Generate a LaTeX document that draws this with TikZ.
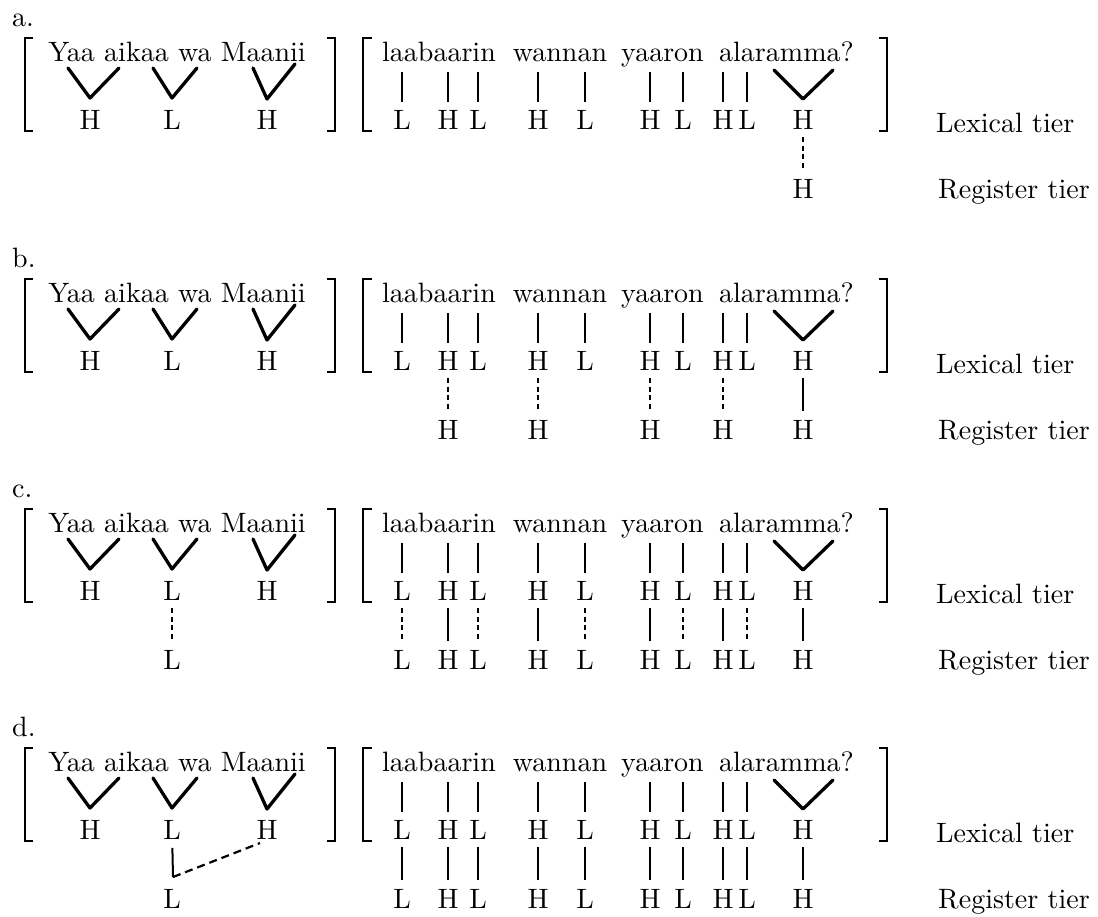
\documentclass[tikz,border=0pt]{standalone}
\usepackage{fontspec}
\newfontfamily\lmten{lmroman10-regular}[Extension=.otf]
\newcommand\bigtxt{\lmten\fontsize{28}{32}\selectfont}
\tikzset{
  tone/.style={inner sep=0pt, font=\bigtxt},
  word/.style={inner sep=0pt, font=\bigtxt, anchor=base},
  hdr/.style={inner sep=0pt, font=\bigtxt, anchor=base west},
  tier/.style={inner sep=0pt, font=\bigtxt, anchor=base west},
  vline/.style={line width=3.3pt, line cap=round, line join=round},
  bar/.style={line width=2pt},
  assoc/.style={line width=2pt, shorten <=7.5pt, shorten >=9.5pt},
  dassoc/.style={assoc, line width=2.3pt, dash pattern=on 5pt off 3.5pt},
  brk/.style={line width=2.2pt},
  longdash/.style={line width=2.2pt, dash pattern=on 8pt off 5pt},
}
\newcommand\panel[3]{%
  \node[hdr] (#1hdr) at (12,{#2-94}) {#3.};
  \node[word] (#1wA) at (177,{#2-59}) {Yaa aikaa wa Maanii};
  \node[word] (#1wB) at (439,{#2-59}) {laabaarin};
  \node[word] (#1wC) at (560,{#2-59}) {wannan};
  \node[word] (#1wD) at (662.5,{#2-59}) {yaaron};
  \node[word] (#1wE) at (786.5,{#2-59}) {alaramma?};
  \draw[brk] (33,{#2-82}) -- (25,{#2-82}) -- (25,{#2+11}) -- (33,{#2+11});
  \draw[brk] (327,{#2-82}) -- (335,{#2-82}) -- (335,{#2+11}) -- (327,{#2+11});
  \draw[brk] (372,{#2-82}) -- (363,{#2-82}) -- (363,{#2+11}) -- (372,{#2+11});
  \draw[brk] (879,{#2-82}) -- (887,{#2-82}) -- (887,{#2+11}) -- (879,{#2+11});
  \node[tone] (#1l1) at (90,#2) {H};
  \node[tone] (#1l2) at (172,#2) {L};
  \node[tone] (#1l3) at (267,#2) {H};
  \coordinate (#1v1a) at (68,{#2-52});
  \coordinate (#1v1b) at (90,{#2-22});
  \coordinate (#1v1c) at (119,{#2-52});
  \coordinate (#1v2a) at (153,{#2-52});
  \coordinate (#1v2b) at (172,{#2-22});
  \coordinate (#1v2c) at (197,{#2-52});
  \coordinate (#1v3a) at (253,{#2-52});
  \coordinate (#1v3b) at (267,{#2-21});
  \coordinate (#1v3c) at (295,{#2-56});
  \coordinate (#1v4a) at (774,{#2-50});
  \coordinate (#1v4b) at (803,{#2-21});
  \coordinate (#1v4c) at (833,{#2-50});
  \draw[vline] (#1v1a) -- (#1v1b) -- (#1v1c);
  \draw[vline] (#1v2a) -- (#1v2b) -- (#1v2c);
  \draw[vline] (#1v3a) -- (#1v3b) -- (#1v3c);
  \draw[vline] (#1v4a) -- (#1v4b) -- (#1v4c);
  \foreach \x/\tn/\i in {402/L/1,448/H/2,478/L/3,538/H/4,585/L/5,650/H/6,683/L/7,723/H/8,747/L/9,803/H/10}
    {\node[tone] (#1t\i) at (\x,#2) {\tn};}
  \foreach \x/\i in {402/1,448/2,478/3,538/4,585/5,650/6,683/7,723/8,747/9}
    {\coordinate (#1b\i) at (\x,{#2-48});
     \draw[bar, shorten >=8.5pt] (#1b\i) -- (#1t\i);}
  \node[tier] (#1lex) at (936,{#2+12}) {Lexical tier};
  \node[tier] (#1reg) at (938,{#2+78.5}) {Register tier};
}
\begin{document}
\begin{tikzpicture}[x=1pt,y=-1pt]
\useasboundingbox (0,0) rectangle (1098,916);
\fill[white] (0,0) rectangle (1098,916);
% ---------- a ----------
\panel{a}{120}{a}
\node[tone] (ar10) at (803,189) {H};
\draw[dassoc] (at10) -- (ar10);
% ---------- b ----------
\panel{b}{361}{b}
\foreach \x/\i in {448/2,538/4,650/6,723/8}
  {\node[tone] (br\i) at (\x,430) {H};
   \draw[dassoc] (bt\i) -- (br\i);}
\node[tone] (br10) at (803,430) {H};
\draw[assoc] (bt10) -- (br10);
% ---------- c ----------
\panel{c}{591}{c}
\node[tone] (clr) at (172,660) {L};
\draw[dassoc] (cl2) -- (clr);
\foreach \x/\i in {402/1,478/3,585/5,683/7,747/9}
  {\node[tone] (cr\i) at (\x,660) {L};
   \draw[dassoc] (ct\i) -- (cr\i);}
\foreach \x/\i in {448/2,538/4,650/6,723/8,803/10}
  {\node[tone] (cr\i) at (\x,660) {H};
   \draw[assoc] (ct\i) -- (cr\i);}
% ---------- d ----------
\panel{d}{830}{d}
\node[tone] (dlr) at (172,899) {L};
\coordinate (dk) at (173,877);
\coordinate (dh) at (260,843);
\draw[bar, shorten <=8pt] (dl2) -- (dk);
\draw[longdash] (dk) -- (dh);
\foreach \x/\i in {402/1,478/3,585/5,683/7,747/9}
  {\node[tone] (dr\i) at (\x,899) {L};
   \draw[assoc] (dt\i) -- (dr\i);}
\foreach \x/\i in {448/2,538/4,650/6,723/8,803/10}
  {\node[tone] (dr\i) at (\x,899) {H};
   \draw[assoc] (dt\i) -- (dr\i);}
\end{tikzpicture}
\end{document}
